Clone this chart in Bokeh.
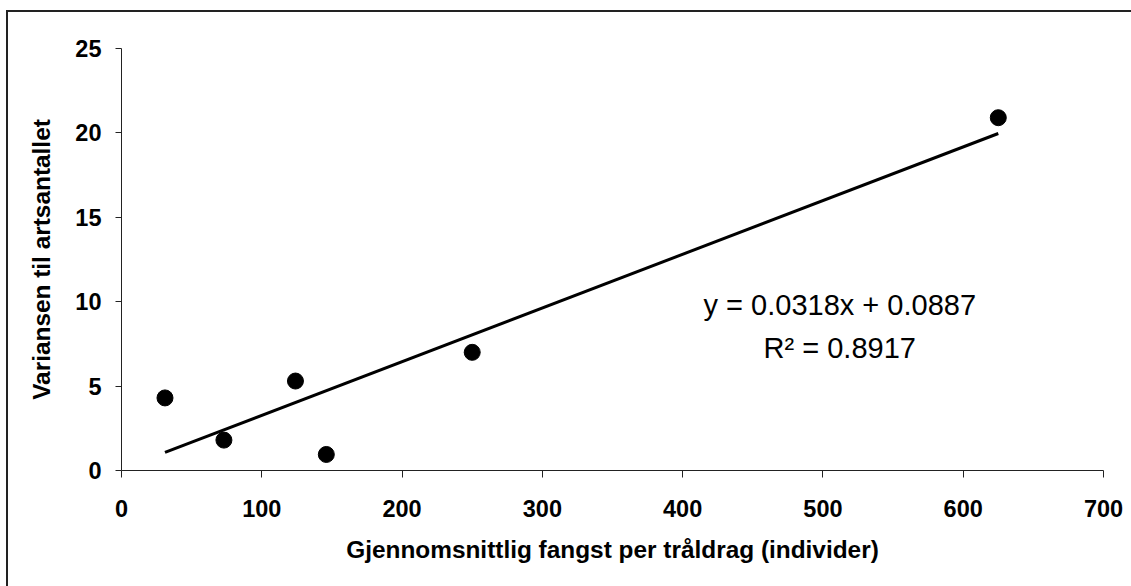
from bokeh.plotting import figure
from bokeh.models import Range1d, FixedTicker, Label
from bokeh.embed import file_html
from bokeh.resources import INLINE

# Data
catch_mean = [31, 73, 124, 146, 250, 625]
species_var = [4.3, 1.8, 5.3, 0.95, 7.0, 20.9]
slope = 0.0318
intercept = 0.0887
x_ticks = [0, 100, 200, 300, 400, 500, 600, 700]
y_ticks = [0, 5, 10, 15, 20, 25]
eq_text = "y = 0.0318x + 0.0887"
r2_text = "R\u00b2 = 0.8917"

FONT = "Liberation Sans"

p = figure(width=1125, height=568, output_backend="svg", toolbar_location=None,
           x_range=Range1d(0, 700), y_range=Range1d(0, 25),
           min_border_left=121, min_border_right=22, min_border_top=48, min_border_bottom=98)

p.xgrid.visible = False
p.ygrid.visible = False
p.outline_line_color = None
p.background_fill_color = "white"
p.border_fill_color = "white"

# trend line from min to max x
fit_x = [min(catch_mean), max(catch_mean)]
fit_y = [slope * v + intercept for v in fit_x]
p.line(fit_x, fit_y, line_color="black", line_width=3)
p.scatter(catch_mean, species_var, marker="circle", size=16, fill_color="black", line_color="black")

for ax in (p.xaxis[0], p.yaxis[0]):
    ax.minor_tick_line_color = None
    ax.major_tick_in = 0
    ax.axis_line_color = "#222"
    ax.major_tick_line_color = "#222"
    ax.major_label_text_font = FONT
    ax.major_label_text_font_style = "bold"
    ax.major_label_text_font_size = "23.5px"
    ax.major_label_text_color = "black"
    ax.axis_label_text_font = FONT
    ax.axis_label_text_font_style = "bold"
    ax.axis_label_text_font_size = "24.4px"
    ax.axis_label_text_color = "black"

p.xaxis.ticker = FixedTicker(ticks=x_ticks)
p.yaxis.ticker = FixedTicker(ticks=y_ticks)
p.xaxis.major_tick_out = 7
p.yaxis.major_tick_out = 6
p.xaxis.major_label_standoff = 22
p.yaxis.major_label_standoff = 14
p.xaxis.axis_label = "Gjennomsnittlig fangst per tråldrag (individer)"
p.yaxis.axis_label = "Variansen til artsantallet"
p.xaxis.axis_label_standoff = 16
p.yaxis.axis_label_standoff = 17

p.add_layout(Label(x=512, y=9.83, text=eq_text, text_align="center", text_baseline="alphabetic",
                   text_font=FONT, text_font_size="29px", text_color="black"))
p.add_layout(Label(x=512, y=7.28, text=r2_text, text_align="center", text_baseline="alphabetic",
                   text_font=FONT, text_font_size="29px", text_color="black"))

html = file_html(p, INLINE)
# outer chart-area frame (its right and bottom sides lie outside the picture)
frame_div = ('<div style="position:fixed;left:6px;top:10px;width:3000px;height:3000px;'
             'border-left:2px solid #222;border-top:2px solid #222;pointer-events:none;'
             'box-sizing:content-box;"></div>')
idx = html.rfind("</body>")
if idx != -1:
    html = html[:idx] + frame_div + "\n" + html[idx:]
hidx = html.find("</head>")
if hidx != -1:
    html = html[:hidx] + "<style>html, body { overflow: hidden; }</style>\n" + html[hidx:]
open("out.html", "w").write(html)
